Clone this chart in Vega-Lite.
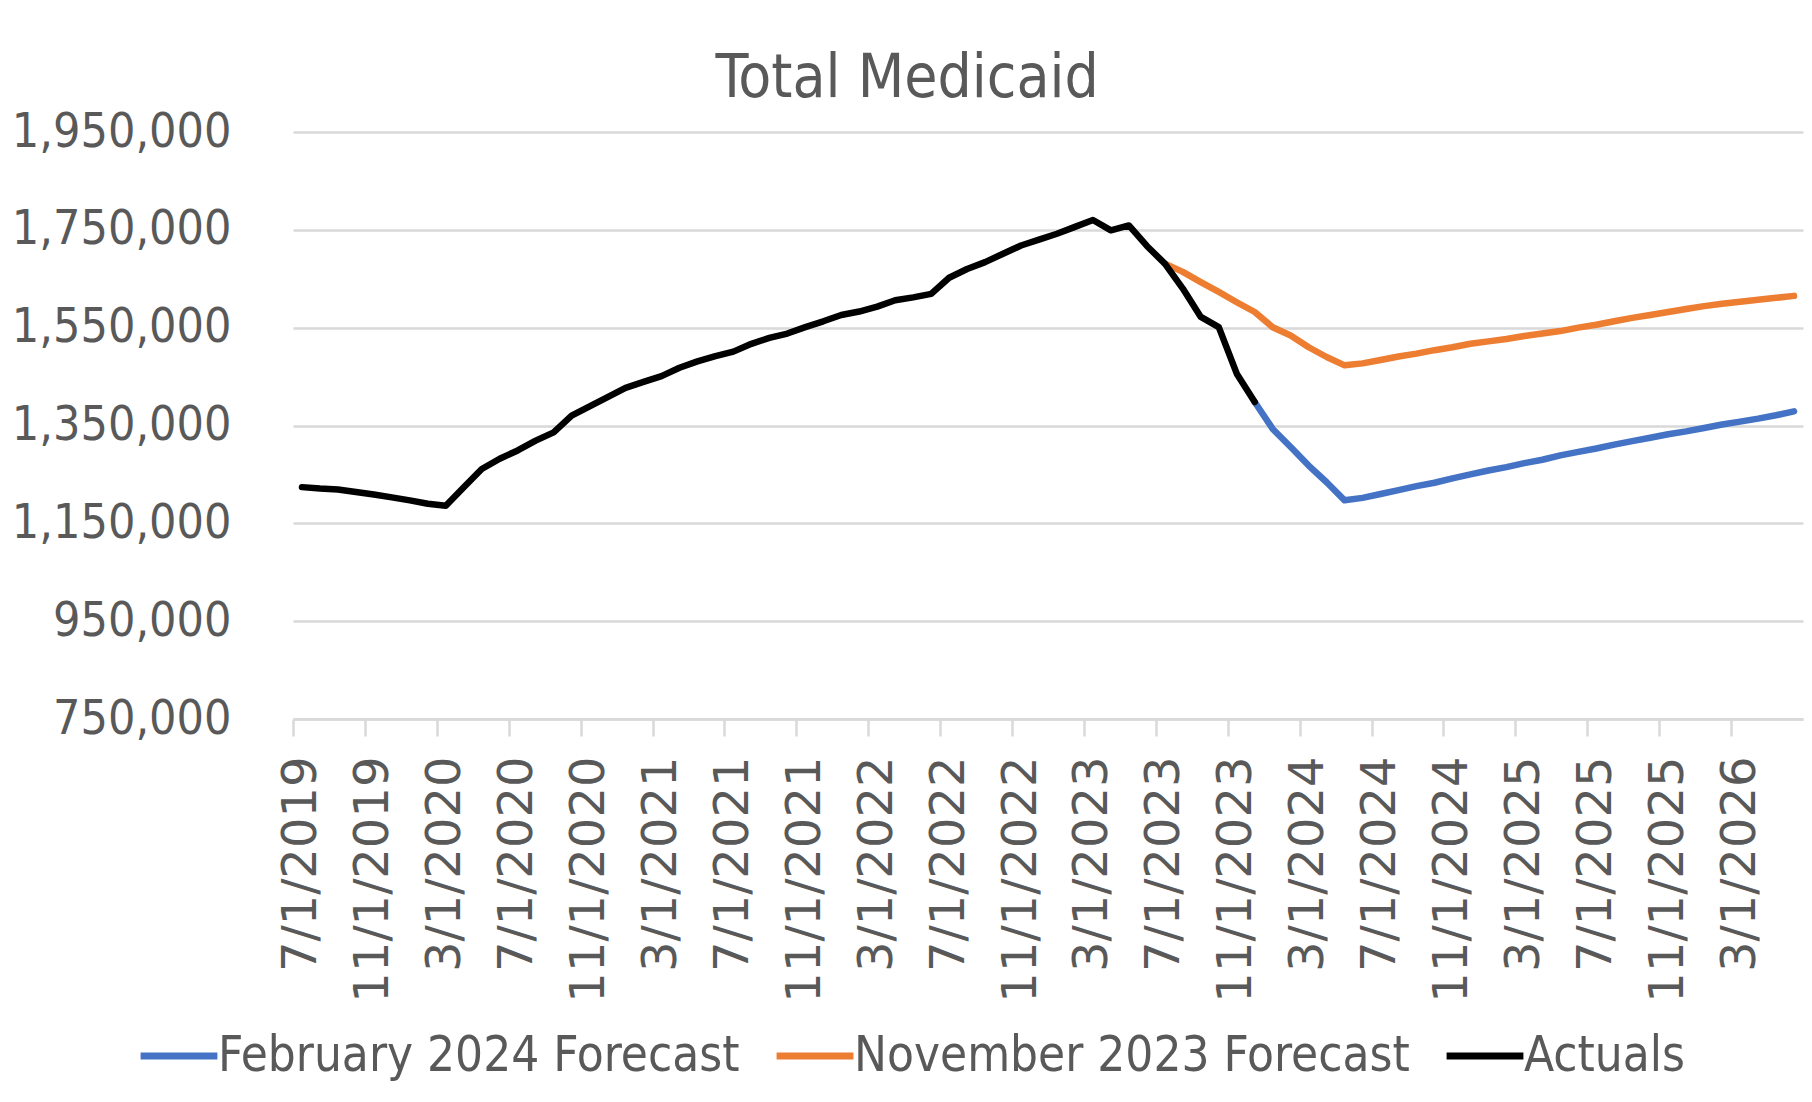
{
  "$schema": "https://vega.github.io/schema/vega-lite/v6.json",
  "width": 1510,
  "height": 587,
  "autosize": {"type": "none"},
  "padding": {"left": 293, "top": 132, "right": 9, "bottom": 383},
  "background": "white",
  "title": {"text": "Total Medicaid", "font": "DejaVu Sans Condensed", "fontSize": 60, "fontWeight": "normal", "color": "#595959", "anchor": "middle", "frame": "bounds", "offset": -2},
  "data": {"values": [
    {"month": "12/1/2023", "series": "February 2024 Forecast", "value": 1398000},
    {"month": "1/1/2024", "series": "February 2024 Forecast", "value": 1343000},
    {"month": "2/1/2024", "series": "February 2024 Forecast", "value": 1306000},
    {"month": "3/1/2024", "series": "February 2024 Forecast", "value": 1268000},
    {"month": "4/1/2024", "series": "February 2024 Forecast", "value": 1234000},
    {"month": "5/1/2024", "series": "February 2024 Forecast", "value": 1197000},
    {"month": "6/1/2024", "series": "February 2024 Forecast", "value": 1202000},
    {"month": "7/1/2024", "series": "February 2024 Forecast", "value": 1210000},
    {"month": "8/1/2024", "series": "February 2024 Forecast", "value": 1218000},
    {"month": "9/1/2024", "series": "February 2024 Forecast", "value": 1226000},
    {"month": "10/1/2024", "series": "February 2024 Forecast", "value": 1233000},
    {"month": "11/1/2024", "series": "February 2024 Forecast", "value": 1242000},
    {"month": "12/1/2024", "series": "February 2024 Forecast", "value": 1250000},
    {"month": "1/1/2025", "series": "February 2024 Forecast", "value": 1258000},
    {"month": "2/1/2025", "series": "February 2024 Forecast", "value": 1265000},
    {"month": "3/1/2025", "series": "February 2024 Forecast", "value": 1273000},
    {"month": "4/1/2025", "series": "February 2024 Forecast", "value": 1280000},
    {"month": "5/1/2025", "series": "February 2024 Forecast", "value": 1289000},
    {"month": "6/1/2025", "series": "February 2024 Forecast", "value": 1296000},
    {"month": "7/1/2025", "series": "February 2024 Forecast", "value": 1303000},
    {"month": "8/1/2025", "series": "February 2024 Forecast", "value": 1311000},
    {"month": "9/1/2025", "series": "February 2024 Forecast", "value": 1318000},
    {"month": "10/1/2025", "series": "February 2024 Forecast", "value": 1325000},
    {"month": "11/1/2025", "series": "February 2024 Forecast", "value": 1332000},
    {"month": "12/1/2025", "series": "February 2024 Forecast", "value": 1338000},
    {"month": "1/1/2026", "series": "February 2024 Forecast", "value": 1345000},
    {"month": "2/1/2026", "series": "February 2024 Forecast", "value": 1352000},
    {"month": "3/1/2026", "series": "February 2024 Forecast", "value": 1358000},
    {"month": "4/1/2026", "series": "February 2024 Forecast", "value": 1364000},
    {"month": "5/1/2026", "series": "February 2024 Forecast", "value": 1371000},
    {"month": "6/1/2026", "series": "February 2024 Forecast", "value": 1379000},
    {"month": "7/1/2023", "series": "November 2023 Forecast", "value": 1681000},
    {"month": "8/1/2023", "series": "November 2023 Forecast", "value": 1664000},
    {"month": "9/1/2023", "series": "November 2023 Forecast", "value": 1643000},
    {"month": "10/1/2023", "series": "November 2023 Forecast", "value": 1623000},
    {"month": "11/1/2023", "series": "November 2023 Forecast", "value": 1602000},
    {"month": "12/1/2023", "series": "November 2023 Forecast", "value": 1582000},
    {"month": "1/1/2024", "series": "November 2023 Forecast", "value": 1551000},
    {"month": "2/1/2024", "series": "November 2023 Forecast", "value": 1534000},
    {"month": "3/1/2024", "series": "November 2023 Forecast", "value": 1510000},
    {"month": "4/1/2024", "series": "November 2023 Forecast", "value": 1490000},
    {"month": "5/1/2024", "series": "November 2023 Forecast", "value": 1473000},
    {"month": "6/1/2024", "series": "November 2023 Forecast", "value": 1477000},
    {"month": "7/1/2024", "series": "November 2023 Forecast", "value": 1484000},
    {"month": "8/1/2024", "series": "November 2023 Forecast", "value": 1491000},
    {"month": "9/1/2024", "series": "November 2023 Forecast", "value": 1497000},
    {"month": "10/1/2024", "series": "November 2023 Forecast", "value": 1504000},
    {"month": "11/1/2024", "series": "November 2023 Forecast", "value": 1510000},
    {"month": "12/1/2024", "series": "November 2023 Forecast", "value": 1517000},
    {"month": "1/1/2025", "series": "November 2023 Forecast", "value": 1522000},
    {"month": "2/1/2025", "series": "November 2023 Forecast", "value": 1527000},
    {"month": "3/1/2025", "series": "November 2023 Forecast", "value": 1533000},
    {"month": "4/1/2025", "series": "November 2023 Forecast", "value": 1538000},
    {"month": "5/1/2025", "series": "November 2023 Forecast", "value": 1543000},
    {"month": "6/1/2025", "series": "November 2023 Forecast", "value": 1550000},
    {"month": "7/1/2025", "series": "November 2023 Forecast", "value": 1556000},
    {"month": "8/1/2025", "series": "November 2023 Forecast", "value": 1563000},
    {"month": "9/1/2025", "series": "November 2023 Forecast", "value": 1570000},
    {"month": "10/1/2025", "series": "November 2023 Forecast", "value": 1576000},
    {"month": "11/1/2025", "series": "November 2023 Forecast", "value": 1582000},
    {"month": "12/1/2025", "series": "November 2023 Forecast", "value": 1588000},
    {"month": "1/1/2026", "series": "November 2023 Forecast", "value": 1594000},
    {"month": "2/1/2026", "series": "November 2023 Forecast", "value": 1599000},
    {"month": "3/1/2026", "series": "November 2023 Forecast", "value": 1603000},
    {"month": "4/1/2026", "series": "November 2023 Forecast", "value": 1607000},
    {"month": "5/1/2026", "series": "November 2023 Forecast", "value": 1611000},
    {"month": "6/1/2026", "series": "November 2023 Forecast", "value": 1615000},
    {"month": "7/1/2019", "series": "Actuals", "value": 1224000},
    {"month": "8/1/2019", "series": "Actuals", "value": 1221000},
    {"month": "9/1/2019", "series": "Actuals", "value": 1219000},
    {"month": "10/1/2019", "series": "Actuals", "value": 1214000},
    {"month": "11/1/2019", "series": "Actuals", "value": 1209000},
    {"month": "12/1/2019", "series": "Actuals", "value": 1203000},
    {"month": "1/1/2020", "series": "Actuals", "value": 1197000},
    {"month": "2/1/2020", "series": "Actuals", "value": 1190000},
    {"month": "3/1/2020", "series": "Actuals", "value": 1186000},
    {"month": "4/1/2020", "series": "Actuals", "value": 1224000},
    {"month": "5/1/2020", "series": "Actuals", "value": 1261000},
    {"month": "6/1/2020", "series": "Actuals", "value": 1282000},
    {"month": "7/1/2020", "series": "Actuals", "value": 1299000},
    {"month": "8/1/2020", "series": "Actuals", "value": 1319000},
    {"month": "9/1/2020", "series": "Actuals", "value": 1336000},
    {"month": "10/1/2020", "series": "Actuals", "value": 1370000},
    {"month": "11/1/2020", "series": "Actuals", "value": 1389000},
    {"month": "12/1/2020", "series": "Actuals", "value": 1408000},
    {"month": "1/1/2021", "series": "Actuals", "value": 1427000},
    {"month": "2/1/2021", "series": "Actuals", "value": 1439000},
    {"month": "3/1/2021", "series": "Actuals", "value": 1451000},
    {"month": "4/1/2021", "series": "Actuals", "value": 1468000},
    {"month": "5/1/2021", "series": "Actuals", "value": 1481000},
    {"month": "6/1/2021", "series": "Actuals", "value": 1492000},
    {"month": "7/1/2021", "series": "Actuals", "value": 1501000},
    {"month": "8/1/2021", "series": "Actuals", "value": 1517000},
    {"month": "9/1/2021", "series": "Actuals", "value": 1529000},
    {"month": "10/1/2021", "series": "Actuals", "value": 1538000},
    {"month": "11/1/2021", "series": "Actuals", "value": 1551000},
    {"month": "12/1/2021", "series": "Actuals", "value": 1563000},
    {"month": "1/1/2022", "series": "Actuals", "value": 1576000},
    {"month": "2/1/2022", "series": "Actuals", "value": 1583000},
    {"month": "3/1/2022", "series": "Actuals", "value": 1593000},
    {"month": "4/1/2022", "series": "Actuals", "value": 1606000},
    {"month": "5/1/2022", "series": "Actuals", "value": 1612000},
    {"month": "6/1/2022", "series": "Actuals", "value": 1619000},
    {"month": "7/1/2022", "series": "Actuals", "value": 1652000},
    {"month": "8/1/2022", "series": "Actuals", "value": 1670000},
    {"month": "9/1/2022", "series": "Actuals", "value": 1684000},
    {"month": "10/1/2022", "series": "Actuals", "value": 1701000},
    {"month": "11/1/2022", "series": "Actuals", "value": 1718000},
    {"month": "12/1/2022", "series": "Actuals", "value": 1730000},
    {"month": "1/1/2023", "series": "Actuals", "value": 1742000},
    {"month": "2/1/2023", "series": "Actuals", "value": 1756000},
    {"month": "3/1/2023", "series": "Actuals", "value": 1770000},
    {"month": "4/1/2023", "series": "Actuals", "value": 1749000},
    {"month": "5/1/2023", "series": "Actuals", "value": 1759000},
    {"month": "6/1/2023", "series": "Actuals", "value": 1717000},
    {"month": "7/1/2023", "series": "Actuals", "value": 1681000},
    {"month": "8/1/2023", "series": "Actuals", "value": 1630000},
    {"month": "9/1/2023", "series": "Actuals", "value": 1572000},
    {"month": "10/1/2023", "series": "Actuals", "value": 1551000},
    {"month": "11/1/2023", "series": "Actuals", "value": 1456000},
    {"month": "12/1/2023", "series": "Actuals", "value": 1398000}
  ]},
  "mark": {"type": "line", "strokeWidth": 6.5, "strokeCap": "round", "strokeJoin": "round"},
  "encoding": {
    "x": {
      "field": "month", "type": "ordinal",
      "sort": ["7/1/2019","8/1/2019","9/1/2019","10/1/2019","11/1/2019","12/1/2019","1/1/2020","2/1/2020","3/1/2020","4/1/2020","5/1/2020","6/1/2020","7/1/2020","8/1/2020","9/1/2020","10/1/2020","11/1/2020","12/1/2020","1/1/2021","2/1/2021","3/1/2021","4/1/2021","5/1/2021","6/1/2021","7/1/2021","8/1/2021","9/1/2021","10/1/2021","11/1/2021","12/1/2021","1/1/2022","2/1/2022","3/1/2022","4/1/2022","5/1/2022","6/1/2022","7/1/2022","8/1/2022","9/1/2022","10/1/2022","11/1/2022","12/1/2022","1/1/2023","2/1/2023","3/1/2023","4/1/2023","5/1/2023","6/1/2023","7/1/2023","8/1/2023","9/1/2023","10/1/2023","11/1/2023","12/1/2023","1/1/2024","2/1/2024","3/1/2024","4/1/2024","5/1/2024","6/1/2024","7/1/2024","8/1/2024","9/1/2024","10/1/2024","11/1/2024","12/1/2024","1/1/2025","2/1/2025","3/1/2025","4/1/2025","5/1/2025","6/1/2025","7/1/2025","8/1/2025","9/1/2025","10/1/2025","11/1/2025","12/1/2025","1/1/2026","2/1/2026","3/1/2026","4/1/2026","5/1/2026","6/1/2026"],
      "scale": {"type": "band", "paddingInner": 0, "paddingOuter": 0},
      "axis": {
        "title": null,
        "values": ["7/1/2019","11/1/2019","3/1/2020","7/1/2020","11/1/2020","3/1/2021","7/1/2021","11/1/2021","3/1/2022","7/1/2022","11/1/2022","3/1/2023","7/1/2023","11/1/2023","3/1/2024","7/1/2024","11/1/2024","3/1/2025","7/1/2025","11/1/2025","3/1/2026"],
        "labelAngle": 270, "labelAlign": "right", "labelBaseline": "middle",
        "labelFont": "DejaVu Sans", "labelFontSize": 48, "labelColor": "#595959",
        "labelPadding": 20, "labelOverlap": false, "labelLimit": 0,
        "tickBand": "center", "tickOffset": -9, "labelOffset": 9,
        "tickColor": "#d9d9d9", "tickWidth": 2.5, "tickSize": 17,
        "domainColor": "#d9d9d9", "domainWidth": 2.5, "grid": false
      }
    },
    "y": {
      "field": "value", "type": "quantitative",
      "scale": {"domain": [750000, 1950000], "nice": false, "zero": false},
      "axis": {
        "title": null,
        "values": [750000, 950000, 1150000, 1350000, 1550000, 1750000, 1950000],
        "format": ",.0f",
        "labelFont": "DejaVu Sans Condensed", "labelFontSize": 48, "labelColor": "#595959",
        "labelPadding": 62, "labelLimit": 0, "ticks": false, "domain": false,
        "grid": true, "gridColor": "#d9d9d9", "gridWidth": 2.5
      }
    },
    "color": {
      "field": "series", "type": "nominal",
      "scale": {"domain": ["February 2024 Forecast", "November 2023 Forecast", "Actuals"], "range": ["#4472C4", "#ED7D31", "#000000"]},
      "legend": {
        "title": null, "orient": "none", "legendX": -156, "legendY": 882,
        "direction": "horizontal", "padding": 0,
        "symbolType": "stroke", "symbolSize": 5900, "symbolStrokeWidth": 7,
        "labelFont": "DejaVu Sans Condensed", "labelFontSize": 49, "labelColor": "#595959",
        "labelOffset": -3, "columnPadding": 22, "labelLimit": 0
      }
    }
  },
  "config": {"view": {"stroke": null}}
}
